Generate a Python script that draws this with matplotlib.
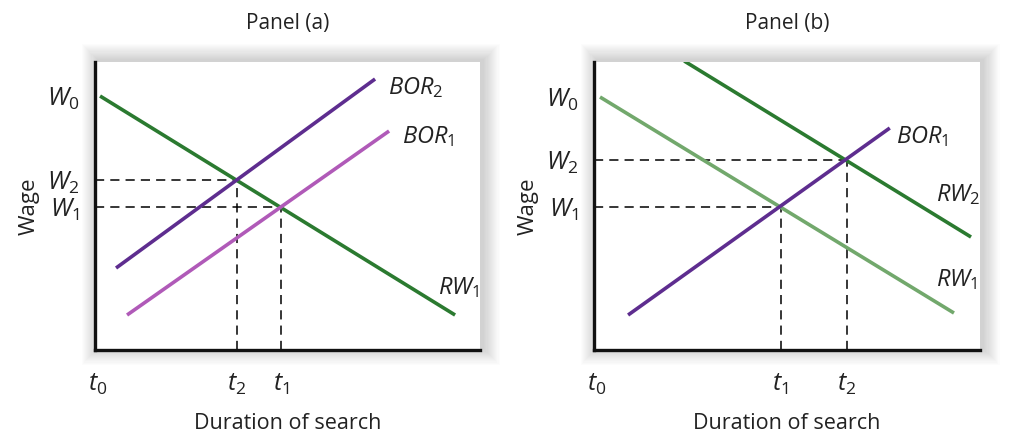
import matplotlib
matplotlib.use('Agg')
import matplotlib.pyplot as plt
from matplotlib.patches import Rectangle

plt.rcParams['font.family'] = ['Open Sans', 'DejaVu Sans']
plt.rcParams['mathtext.fontset'] = 'custom'
plt.rcParams['mathtext.rm'] = 'Open Sans'
plt.rcParams['mathtext.it'] = 'Open Sans:italic'

DARK_GREEN = '#2b7a30'
LIGHT_GREEN = '#72a86c'
PURPLE = '#5e2d8f'
PINK = '#b05ab8'
TEXT = '#222222'

# panel (a) line endpoints (x, y) in chart units
a_rw1_x = [5, 360]
a_rw1_y = [254, 35]
a_bor2_x = [21, 280]
a_bor2_y = [82, 271]
a_bor1_x = [32, 294]
a_bor1_y = [35, 219]
a_w = {'W0': 254, 'W2': 170, 'W1': 143}
a_t = {'t0': 3, 't2': 142, 't1': 186}

# panel (b)
b_rw2_x = [90, 376]
b_rw2_y = [289, 113]
b_rw1_x = [6, 359]
b_rw1_y = [253, 37]
b_bor1_x = [34, 295]
b_bor1_y = [35, 222]
b_w = {'W0': 253, 'W2': 190, 'W1': 143}
b_t = {'t0': 3, 't1': 186, 't2': 252}

fig = plt.figure(figsize=(10.09, 4.34), dpi=100)

def shadow(rect):
    # soft grey glow around the plot box, a bit heavier up and to the right
    l, b, w, h = rect
    for i in range(1, 16):
        px = i * 1.1 / 1009
        py = i * 1.1 / 434
        fig.patches.append(Rectangle((l - px + 0.003, b - py + 0.004), w + 2 * px, h + 2 * py,
                                     transform=fig.transFigure, facecolor='black',
                                     edgecolor='none', alpha=0.012, zorder=0))

def make_panel(rect, title):
    shadow(rect)
    ax = fig.add_axes(rect)
    ax.set_zorder(2)
    ax.set_facecolor('white')
    ax.set_xlim(0, 385)
    ax.set_ylim(0, 288)
    for s in ['top', 'right']:
        ax.spines[s].set_visible(False)
    for s in ['left', 'bottom']:
        ax.spines[s].set_linewidth(2.4)
        ax.spines[s].set_color('#111111')
    ax.set_title(title, fontsize=15, pad=24, color=TEXT)
    ax.set_ylabel('Wage', fontsize=16, color=TEXT)
    ax.yaxis.set_label_coords(-0.144, 0.5)
    ax.set_xlabel('Duration of search', fontsize=15.5, color=TEXT)
    ax.xaxis.set_label_coords(0.5, -0.219)
    ax.tick_params(length=0)
    return ax

def label(name):
    return '$%s_{%s}$' % (name[0], name[1])

def guides(ax, xs, ys):
    for x, y in zip(xs, ys):
        ax.plot([0, x], [y, y], color='black', lw=1.1, dashes=(6, 4))
        ax.plot([x, x], [0, y], color='black', lw=1.1, dashes=(6, 4))

def ticks(ax, w, t):
    ax.set_yticks(list(w.values()))
    ax.set_yticklabels([label(k) for k in w], fontsize=18, color=TEXT)
    ax.set_xticks(list(t.values()))
    ax.set_xticklabels([label(k) for k in t], fontsize=18, color=TEXT)
    ax.tick_params(axis='x', pad=16)
    ax.tick_params(axis='y', pad=11)

def name(ax, x, y, s):
    ax.text(x, y, s, fontsize=17, color=TEXT, va='center', ha='left')

ax1 = make_panel([0.0942, 0.1935, 0.3816, 0.6636], 'Panel (a)')
guides(ax1, [a_t['t2'], a_t['t1']], [a_w['W2'], a_w['W1']])
ax1.plot(a_rw1_x, a_rw1_y, color=DARK_GREEN, lw=2.6, solid_capstyle='butt')
ax1.plot(a_bor2_x, a_bor2_y, color=PURPLE, lw=2.6, solid_capstyle='butt')
ax1.plot(a_bor1_x, a_bor1_y, color=PINK, lw=2.6, solid_capstyle='butt')
name(ax1, 293, 262, '$BOR_{2}$')
name(ax1, 307, 213, '$BOR_{1}$')
name(ax1, 343, 62, '$RW_{1}$')
ticks(ax1, a_w, a_t)

ax2 = make_panel([0.5887, 0.1935, 0.3826, 0.6636], 'Panel (b)')
guides(ax2, [b_t['t1'], b_t['t2']], [b_w['W1'], b_w['W2']])
ax2.plot(b_rw2_x, b_rw2_y, color=DARK_GREEN, lw=2.6, solid_capstyle='butt')
ax2.plot(b_rw1_x, b_rw1_y, color=LIGHT_GREEN, lw=2.6, solid_capstyle='butt')
ax2.plot(b_bor1_x, b_bor1_y, color=PURPLE, lw=2.6, solid_capstyle='butt')
name(ax2, 301, 213, '$BOR_{1}$')
name(ax2, 341, 155, '$RW_{2}$')
name(ax2, 341, 70, '$RW_{1}$')
ticks(ax2, b_w, b_t)

fig.savefig('out.png', dpi=100)
